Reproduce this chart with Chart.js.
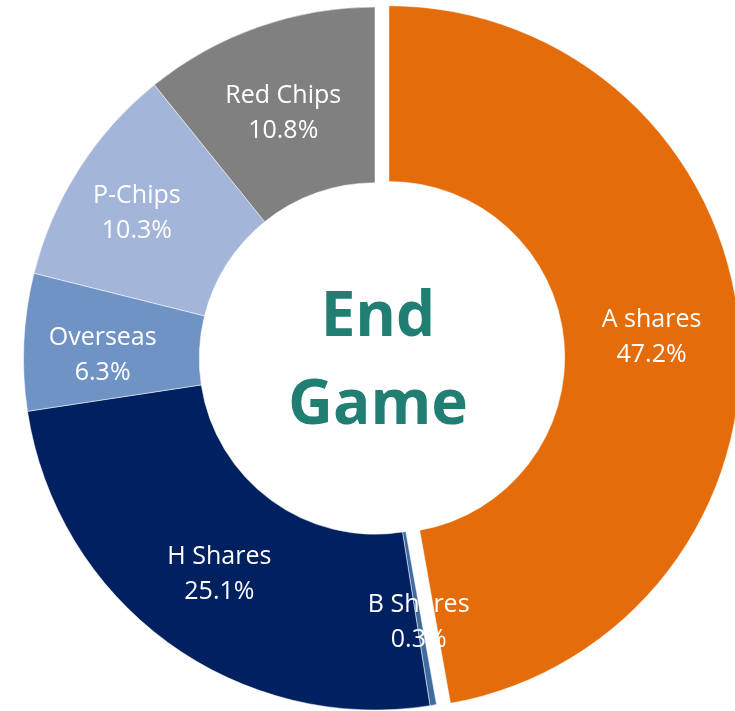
<!DOCTYPE html>
<html>
<head>
<meta charset="utf-8">
<script src="https://cdn.jsdelivr.net/npm/chart.js@4.4.1/dist/chart.umd.min.js"></script>
<style>
  body { margin: 0; background: #fff; overflow: hidden; }
  #wrap { width: 735px; height: 711px; position: relative; }
</style>
</head>
<body>
<div id="wrap"><canvas id="chart"></canvas></div>
<script>
// slices, clockwise from 12 o'clock
const labels = ['A shares', 'B Shares', 'H Shares', 'Overseas', 'P-Chips', 'Red Chips'];
const shares = [47.2, 0.3, 25.1, 6.3, 10.3, 10.8];
const colors = ['#E46C0A', '#3F6B9F', '#002060', '#7093C5', '#A3B5D8', '#808080'];
const explode = [14, 0, 0, 0, 0, 0]; // px pulled out from the centre
const centerLines = ['End', 'Game'];

// small hand nudges so labels sit where the original put them
const labelNudgeX = [0, 0, 0, -9, -16, -4];
const labelNudgeY = [3, 3, 3, 9, -4, 3];
const labelFont = '25px "Open Sans", sans-serif';

// pull exploded slices outward without growing their radius
const explodeSlices = {
    id: 'explodeSlices',
    afterDatasetUpdate(chart, args) {
        args.meta.data.forEach((arc, i) => {
            const d = explode[i] || 0;
            if (!d) return;
            const half = (arc.startAngle + arc.endAngle) / 2;
            arc.x += Math.cos(half) * d;
            arc.y += Math.sin(half) * d;
        });
    }
};

// white two line labels on each slice
const sliceLabels = {
    id: 'sliceLabels',
    afterDatasetsDraw(chart) {
        const ctx = chart.ctx;
        const meta = chart.getDatasetMeta(0);
        ctx.save();
        ctx.fillStyle = '#fff';
        ctx.font = labelFont;
        ctx.textAlign = 'center';
        ctx.textBaseline = 'middle';
        meta.data.forEach((arc, i) => {
            const pos = arc.tooltipPosition();
            const x = pos.x + labelNudgeX[i];
            const y = pos.y + labelNudgeY[i];
            ctx.fillText(labels[i], x, y - 17);
            ctx.fillText(shares[i].toFixed(1) + '%', x, y + 18);
        });
        ctx.restore();
    }
};

const centerText = {
    id: 'centerText',
    afterDatasetsDraw(chart) {
        const ctx = chart.ctx;
        const meta = chart.getDatasetMeta(0);
        const cx = meta.data[1].x, cy = meta.data[1].y;
        ctx.save();
        ctx.fillStyle = '#217E73';
        ctx.font = 'bold 62px "Open Sans", sans-serif';
        ctx.textAlign = 'center';
        ctx.textBaseline = 'alphabetic';
        ctx.fillText(centerLines[0], cx + 3, cy - 23);
        ctx.fillText(centerLines[1], cx + 3, cy + 65);
        ctx.restore();
    }
};

new Chart(document.getElementById('chart'), {
    type: 'doughnut',
    data: {
        labels: labels,
        datasets: [{
            data: shares,
            backgroundColor: colors,
            borderColor: '#fff',
            borderWidth: 0.5,
            clip: false
        }]
    },
    options: {
        responsive: true,
        maintainAspectRatio: false,
        animation: false,
        radius: 351.5,
        cutout: '50%',
        layout: { padding: { left: 15, top: 6, right: 0, bottom: 0 } },
        plugins: {
            legend: { display: false },
            tooltip: { enabled: false }
        }
    },
    plugins: [explodeSlices, sliceLabels, centerText]
});
</script>
</body>
</html>
